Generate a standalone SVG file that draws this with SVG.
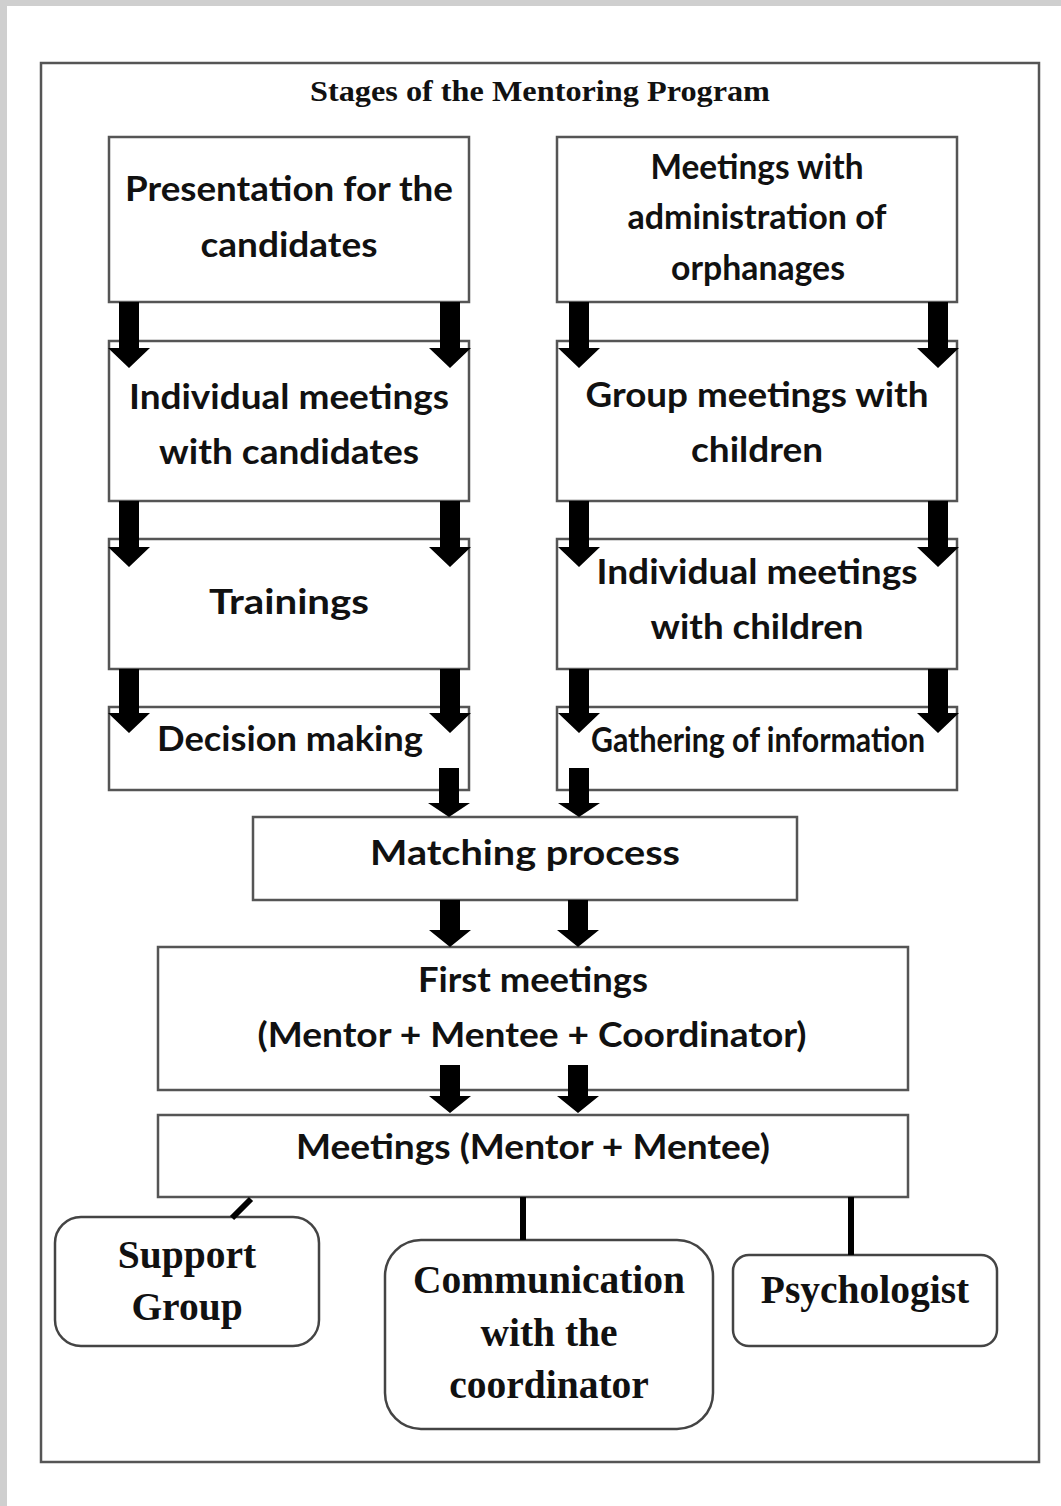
<svg xmlns="http://www.w3.org/2000/svg" width="1061" height="1506" viewBox="0 0 1061 1506">
<style>
.box{fill:#fff;stroke:#555;stroke-width:2.5}
.rbox{fill:#fff;stroke:#444;stroke-width:2.5}
.t{font-family:Lato,"Open Sans",sans-serif;font-weight:bold;font-size:35px;fill:#111;text-anchor:middle}
.s{font-family:"Liberation Serif","Times New Roman",serif;font-weight:bold;font-size:39.5px;fill:#111;text-anchor:middle}
.arr{fill:#000}
.ln{stroke:#000;stroke-width:6;fill:none}
</style>
<rect x="0" y="0" width="1061" height="1506" fill="#cfcfcf"/>
<rect x="7" y="6" width="1054" height="1500" fill="#fff"/>
<rect x="41" y="63" width="998" height="1399" fill="#fff" stroke="#555" stroke-width="2.5"/>
<text x="540" y="101" font-family="Liberation Serif,serif" font-weight="bold" font-size="30" fill="#111" text-anchor="middle" textLength="460" lengthAdjust="spacingAndGlyphs">Stages of the Mentoring Program</text>

<g id="n-presentation"><rect class="box" x="109" y="137" width="360" height="165"/>
<text class="t" x="289" y="201" textLength="328" lengthAdjust="spacingAndGlyphs">Presentation for the</text><text class="t" x="289" y="257" textLength="177" lengthAdjust="spacingAndGlyphs">candidates</text></g>
<g id="n-indiv-cand"><rect class="box" x="109" y="341" width="360" height="160"/>
<text class="t" x="289" y="409" textLength="320" lengthAdjust="spacingAndGlyphs">Individual meetings</text><text class="t" x="289" y="464" textLength="260" lengthAdjust="spacingAndGlyphs">with candidates</text></g>
<g id="n-trainings"><rect class="box" x="109" y="539" width="360" height="130"/>
<text class="t" x="289" y="614" textLength="160" lengthAdjust="spacingAndGlyphs">Trainings</text></g>
<g id="n-decision"><rect class="box" x="109" y="707" width="360" height="83"/>
<text class="t" x="290" y="751" textLength="266" lengthAdjust="spacingAndGlyphs">Decision making</text></g>

<g id="n-admin"><rect class="box" x="557" y="137" width="400" height="165"/>
<text class="t" x="757" y="179" font-size="32" textLength="213" lengthAdjust="spacingAndGlyphs">Meetings with</text><text class="t" x="757" y="229" font-size="32" textLength="259" lengthAdjust="spacingAndGlyphs">administration of</text><text class="t" x="758" y="280" font-size="32" textLength="174" lengthAdjust="spacingAndGlyphs">orphanages</text></g>
<g id="n-group"><rect class="box" x="557" y="341" width="400" height="160"/>
<text class="t" x="757" y="407" textLength="343" lengthAdjust="spacingAndGlyphs">Group meetings with</text><text class="t" x="757" y="462" textLength="132" lengthAdjust="spacingAndGlyphs">children</text></g>
<g id="n-indiv-child"><rect class="box" x="557" y="539" width="400" height="130"/>
<text class="t" x="757" y="584" textLength="321" lengthAdjust="spacingAndGlyphs">Individual meetings</text><text class="t" x="757" y="639" textLength="213" lengthAdjust="spacingAndGlyphs">with children</text></g>
<g id="n-gathering"><rect class="box" x="557" y="707" width="400" height="83"/>
<text class="t" x="758" y="752" font-size="25" textLength="334" lengthAdjust="spacingAndGlyphs">Gathering of information</text></g>

<g id="n-matching"><rect class="box" x="253" y="817" width="544" height="83"/>
<text class="t" x="525" y="865" font-size="37" textLength="310" lengthAdjust="spacingAndGlyphs">Matching process</text></g>
<g id="n-first"><rect class="box" x="158" y="947" width="750" height="143"/>
<text class="t" x="533" y="992" textLength="230" lengthAdjust="spacingAndGlyphs">First meetings</text><text class="t" x="532" y="1047" textLength="549" lengthAdjust="spacingAndGlyphs">(Mentor + Mentee + Coordinator)</text></g>
<g id="n-meetings"><rect class="box" x="158" y="1115" width="750" height="82"/>
<text class="t" x="533" y="1159" textLength="474" lengthAdjust="spacingAndGlyphs">Meetings (Mentor + Mentee)</text></g>

<g id="n-support"><rect class="rbox" x="55" y="1217" width="264" height="129" rx="26"/>
<text class="s" x="187" y="1268">Support</text><text class="s" x="187" y="1320">Group</text></g>
<g id="n-comm"><rect class="rbox" x="385" y="1240" width="328" height="189" rx="36"/>
<text class="s" x="549" y="1293">Communication</text><text class="s" x="549" y="1346">with the</text><text class="s" x="549" y="1398">coordinator</text></g>
<g id="n-psych"><rect class="rbox" x="733" y="1255" width="264" height="91" rx="16"/>
<text class="s" x="865" y="1303">Psychologist</text></g>

<g id="connectors">
<path class="arr" d="M119,302H139V348H150L129,368L108,348H119Z"/>
<path class="arr" d="M440,302H460V348H471L450,368L429,348H440Z"/>
<path class="arr" d="M569,302H589V348H600L579,368L558,348H569Z"/>
<path class="arr" d="M928,302H948V348H959L938,368L917,348H928Z"/>
<path class="arr" d="M119,501H139V547H150L129,567L108,547H119Z"/>
<path class="arr" d="M440,501H460V547H471L450,567L429,547H440Z"/>
<path class="arr" d="M569,501H589V547H600L579,567L558,547H569Z"/>
<path class="arr" d="M928,501H948V547H959L938,567L917,547H928Z"/>
<path class="arr" d="M119,669H139V713H150L129,733L108,713H119Z"/>
<path class="arr" d="M440,669H460V713H471L450,733L429,713H440Z"/>
<path class="arr" d="M569,669H589V713H600L579,733L558,713H569Z"/>
<path class="arr" d="M928,669H948V713H959L938,733L917,713H928Z"/>
<path class="arr" d="M439,768H459V803H470L449,817L428,803H439Z"/>
<path class="arr" d="M569,768H589V803H600L579,817L558,803H569Z"/>
<path class="arr" d="M440,900H460V930H471L450,947L429,930H440Z"/>
<path class="arr" d="M568,900H588V930H599L578,947L557,930H568Z"/>
<path class="arr" d="M440,1065H460V1096H471L450,1113L429,1096H440Z"/>
<path class="arr" d="M568,1065H588V1096H599L578,1113L557,1096H568Z"/>
<line class="ln" x1="251" y1="1199" x2="232" y2="1218"/>
<line class="ln" x1="523" y1="1197" x2="523" y2="1240"/>
<line class="ln" x1="851" y1="1197" x2="851" y2="1255"/>
</g>
</svg>
